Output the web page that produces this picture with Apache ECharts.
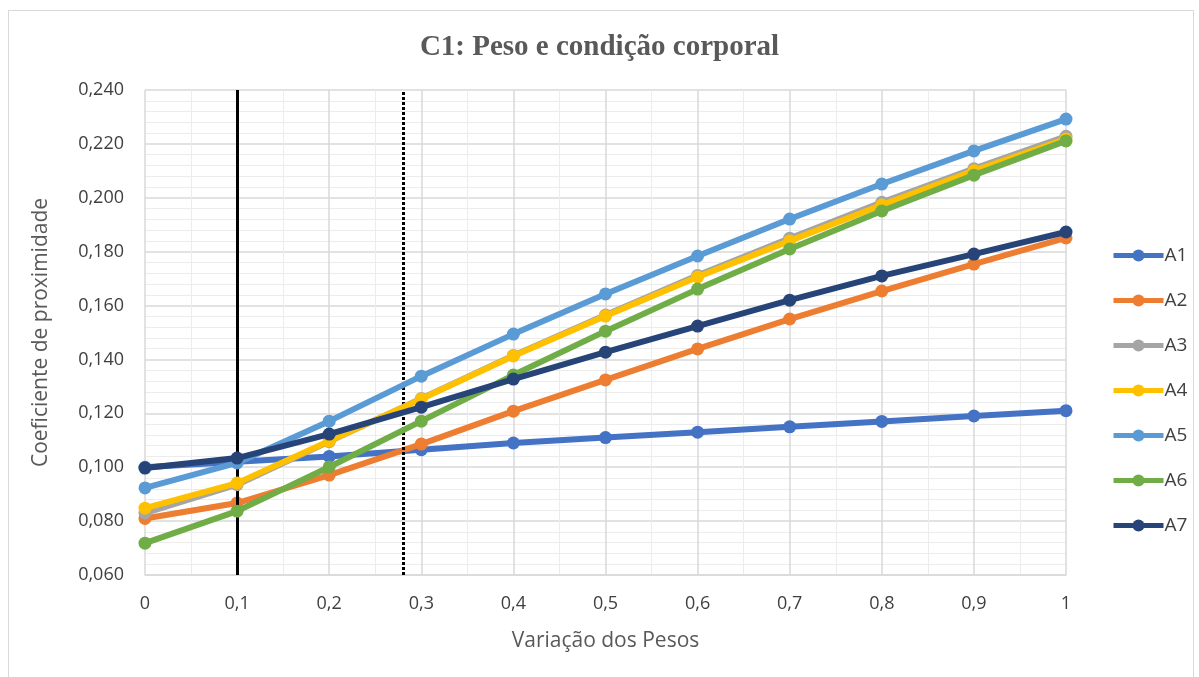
<!DOCTYPE html>
<html>
<head>
<meta charset="utf-8">
<script src="https://cdn.jsdelivr.net/npm/echarts@6/dist/echarts.min.js"></script>
<style>
html,body{margin:0;padding:0;background:#fff;}
#frame{position:absolute;left:8px;top:10px;width:1186px;height:670px;border:1px solid #d9d9d9;box-sizing:border-box;}
#chart{position:absolute;left:0;top:0;width:1199px;height:677px;}
</style>
</head>
<body>
<div id="frame"></div>
<div id="chart"></div>
<script>
const titleText = 'C1: Peso e condição corporal';
const xName = 'Variação dos Pesos';
const yName = 'Coeficiente de proximidade';
const weights = [0, 0.1, 0.2, 0.3, 0.4, 0.5, 0.6, 0.7, 0.8, 0.9, 1];
const seriesNames = ['A1', 'A2', 'A3', 'A4', 'A5', 'A6', 'A7'];
const A1 = [0.100, 0.102, 0.104, 0.1065, 0.109, 0.111, 0.113, 0.115, 0.117, 0.119, 0.121];
const A2 = [0.081, 0.0867, 0.0971, 0.1086, 0.1208, 0.1324, 0.1439, 0.1550, 0.1654, 0.1754, 0.1851];
const A3 = [0.0830, 0.0935, 0.1095, 0.1255, 0.1415, 0.1565, 0.1712, 0.1850, 0.1983, 0.2108, 0.2228];
const A4 = [0.0848, 0.0941, 0.1097, 0.1253, 0.1413, 0.1561, 0.1706, 0.1840, 0.1973, 0.2100, 0.2218];
const A5 = [0.0923, 0.1016, 0.1171, 0.1338, 0.1494, 0.1643, 0.1784, 0.1921, 0.2051, 0.2174, 0.2292];
const A6 = [0.0718, 0.0837, 0.1001, 0.1171, 0.1342, 0.1505, 0.1661, 0.1810, 0.1951, 0.2084, 0.2211];
const A7 = [0.0997, 0.1034, 0.1123, 0.1223, 0.1327, 0.1427, 0.1524, 0.1620, 0.1710, 0.1791, 0.1873];
const seriesValues = [A1, A2, A3, A4, A5, A6, A7];
const colors = ['#4472C4', '#ED7D31', '#A5A5A5', '#FFC000', '#5B9BD5', '#70AD47', '#264478'];
const solidLineAt = 0.1;
const dottedLineAt = 0.278;

const chart = echarts.init(document.getElementById('chart'));
const fontSans = '"Open Sans", "Liberation Sans", sans-serif';

const series = seriesNames.map((name, i) => ({
  name: name,
  type: 'line',
  data: weights.map((w, j) => [w, seriesValues[i][j]]),
  symbol: 'circle',
  symbolSize: 13,
  lineStyle: { width: 6, color: colors[i] },
  itemStyle: { color: colors[i] },
  emphasis: { disabled: true },
  z: 3 + i
}));
series.push({
  name: 'refs',
  type: 'line',
  data: [],
  markLine: {
    silent: true,
    symbol: ['none', 'none'],
    label: { show: false },
    data: [
      { xAxis: solidLineAt, lineStyle: { color: '#000', width: 3, type: 'solid' } },
      { xAxis: dottedLineAt, lineStyle: { color: '#000', width: 3, type: [3, 2] } }
    ]
  },
  z: 2
});

chart.setOption({
  animation: false,
  color: colors,
  title: {
    text: titleText,
    left: 'center',
    top: 28,
    textStyle: { fontFamily: '"Liberation Serif", "Times New Roman", serif', fontSize: 29, fontWeight: 'bold', color: '#595959' }
  },
  legend: {
    data: seriesNames,
    orient: 'vertical',
    left: 1106,
    top: 241,
    itemGap: 26,
    itemWidth: 50,
    itemHeight: 15,
    lineStyle: { width: 5 },
    textStyle: { fontFamily: fontSans, fontSize: 19, color: '#404040', padding: [0, 0, 0, -4] }
  },
  grid: { left: 145, right: 133, top: 90, bottom: 102 },
  xAxis: {
    type: 'value',
    min: 0, max: 1, interval: 0.1,
    name: xName,
    nameLocation: 'middle',
    nameGap: 56,
    nameTextStyle: { fontFamily: fontSans, fontSize: 21, color: '#595959' },
    axisLine: { show: true, lineStyle: { color: '#d9d9d9', width: 1.5 } },
    axisTick: { show: false },
    axisLabel: {
      fontFamily: fontSans, fontSize: 18, color: '#404040', margin: 20,
      formatter: v => (Math.abs(v - Math.round(v)) < 1e-9 ? String(Math.round(v)) : v.toFixed(1).replace('.', ','))
    },
    splitLine: { show: true, lineStyle: { color: '#d9d9d9', width: 1.5 } },
    minorTick: { show: false, splitNumber: 2 },
    minorSplitLine: { show: true, lineStyle: { color: '#ececec', width: 1 } }
  },
  yAxis: {
    type: 'value',
    min: 0.06, max: 0.24, interval: 0.02,
    name: yName,
    nameLocation: 'middle',
    nameGap: 93,
    nameTextStyle: { fontFamily: fontSans, fontSize: 21, color: '#595959' },
    axisLine: { show: false },
    axisTick: { show: false },
    axisLabel: {
      fontFamily: fontSans, fontSize: 18, color: '#404040', margin: 21,
      formatter: v => v.toFixed(3).replace('.', ',')
    },
    splitLine: { show: true, lineStyle: { color: '#d9d9d9', width: 1.5 } },
    minorTick: { show: false, splitNumber: 5 },
    minorSplitLine: { show: true, lineStyle: { color: '#ececec', width: 1 } }
  },
  series: series
});
</script>
</body>
</html>
